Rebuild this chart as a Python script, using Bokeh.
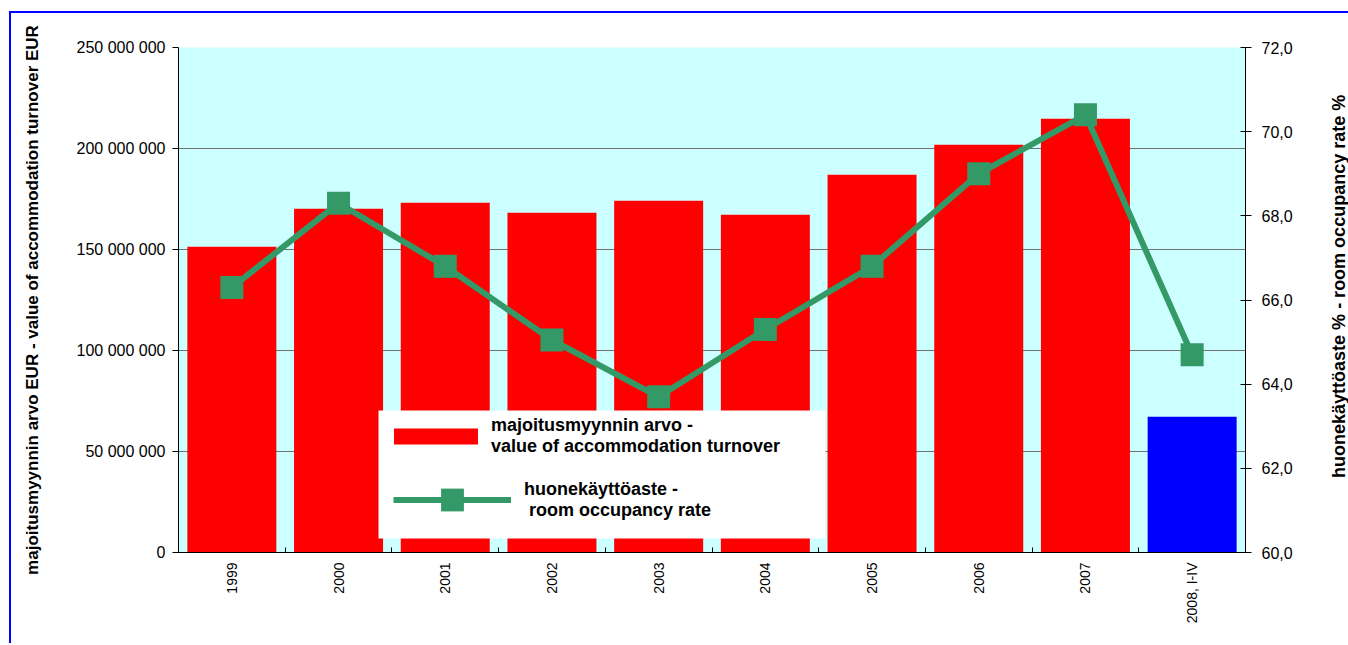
import math
from bokeh.plotting import figure
from bokeh.layouts import row
from bokeh.models import (Range1d, LinearAxis, FixedTicker, CustomJSTickFormatter,
                          Legend, LegendItem, ColumnDataSource, BoxAnnotation)
from bokeh.core.properties import value
from bokeh.embed import file_html
from bokeh.resources import INLINE

categories = ["1999", "2000", "2001", "2002", "2003", "2004", "2005", "2006", "2007", "2008, I-IV"]
turnover = [151.3e6, 170.2e6, 173.1e6, 168.2e6, 174.1e6, 167.2e6, 187.0e6, 201.8e6, 214.7e6, 67.2e6]
occupancy = [66.3, 68.3, 66.8, 65.05, 63.7, 65.3, 66.8, 69.0, 70.4, 64.7]
bar_colors = ["#FF0000"] * 9 + ["#0000FF"]
left_ticks = [0, 50e6, 100e6, 150e6, 200e6, 250e6]
right_ticks = [60, 62, 64, 66, 68, 70, 72]
left_title = "majoitusmyynnin arvo EUR - value of accommodation turnover EUR"
right_title = "huonekäyttöaste % - room occupancy rate %"
legend_bar = "majoitusmyynnin arvo -\nvalue of accommodation turnover"
legend_line = "huonekäyttöaste -\n room occupancy rate"

n = len(categories)
xc = [i + 0.5 for i in range(n)]
src = ColumnDataSource(dict(x=xc, turnover=turnover, occ=occupancy, color=bar_colors))

FONT = "Liberation Sans"
H = 630

p = figure(width=1317, height=H, output_backend="svg", toolbar_location=None,
           x_range=Range1d(0, n), y_range=Range1d(0, 250e6),
           min_border_left=167, min_border_right=83, min_border_top=34, min_border_bottom=91)
p.background_fill_color = "#CCFFFF"
p.border_fill_color = "white"
p.outline_line_color = None
p.extra_y_ranges = {"right": Range1d(60, 72)}

bars = p.vbar(x="x", top="turnover", width=0.834, fill_color="color", line_color=None, source=src)
line = p.line(x="x", y="occ", y_range_name="right", line_width=6, line_color="#339966", source=src)
marks = p.scatter(x="x", y="occ", y_range_name="right", marker="square", size=23,
                  fill_color="#339966", line_color=None, source=src)

# grid
p.xgrid.visible = False
p.ygrid.ticker = FixedTicker(ticks=left_ticks)
p.ygrid.grid_line_color = "#707070"
p.ygrid.grid_line_width = 1

# left axis
ya = p.yaxis[0]
ya.ticker = FixedTicker(ticks=left_ticks)
ya.formatter = CustomJSTickFormatter(code="""
return Math.round(tick).toString().replace(/\\B(?=(\\d{3})+(?!\\d))/g, " ");
""")
ya.axis_label = left_title
ya.axis_label_text_font = FONT
ya.axis_label_text_font_style = "bold"
ya.axis_label_text_font_size = "17px"
ya.axis_label_text_color = "black"
ya.axis_label_standoff = 32
ya.major_label_text_font = FONT
ya.major_label_text_font_size = "16px"
ya.major_label_text_color = "black"
ya.major_label_standoff = 7
ya.major_tick_out = 6
ya.major_tick_in = 0
ya.minor_tick_line_color = None
ya.axis_line_color = "black"
ya.major_tick_line_color = "black"

# right axis
ra = LinearAxis(y_range_name="right", ticker=FixedTicker(ticks=right_ticks))
ra.formatter = CustomJSTickFormatter(code="return tick.toFixed(1).replace('.', ',');")
ra.major_label_text_font = FONT
ra.major_label_text_font_size = "16px"
ra.major_label_text_color = "black"
ra.major_label_standoff = 10
ra.major_tick_out = 6
ra.major_tick_in = 5
ra.minor_tick_line_color = None
ra.axis_line_color = "black"
ra.major_tick_line_color = "black"
p.add_layout(ra, "right")

# bottom axis
xa = p.xaxis[0]
xa.ticker = FixedTicker(ticks=xc, minor_ticks=list(range(n + 1)))
xa.major_label_overrides = {x: c for x, c in zip(xc, categories)}
xa.major_label_orientation = math.pi / 2
xa.major_label_text_font = FONT
xa.major_label_text_font_size = "14px"
xa.major_label_text_color = "black"
xa.major_label_standoff = 10
xa.major_tick_in = 0
xa.major_tick_out = 0
xa.minor_tick_in = 5
xa.minor_tick_out = 0
xa.minor_tick_line_color = "black"
xa.axis_line_color = "black"

# legend background box
p.add_layout(BoxAnnotation(left=200, right=647, bottom=14, top=142,
                           left_units="screen", right_units="screen",
                           bottom_units="screen", top_units="screen",
                           fill_color="white", fill_alpha=1, line_color=None))

def style_legend(lg):
    lg.background_fill_alpha = 0
    lg.border_line_color = None
    lg.label_text_font = FONT
    lg.label_text_font_style = "bold"
    lg.label_text_font_size = "18px"
    lg.label_text_color = "black"
    lg.margin = 0
    lg.padding = 0

legend1 = Legend(items=[LegendItem(label=legend_bar, renderers=[bars])], location=(205, 95))
style_legend(legend1)
legend1.glyph_width = 105
legend1.glyph_height = 20
legend1.label_standoff = 3
p.add_layout(legend1, "center")

legend2 = Legend(items=[LegendItem(label=legend_line, renderers=[line, marks])], location=(215, 24))
style_legend(legend2)
legend2.glyph_width = 118
legend2.glyph_height = 57
legend2.label_standoff = 13
p.add_layout(legend2, "center")

# right-hand axis title (reads bottom to top) in a narrow strip
rs = figure(width=20, height=H, output_backend="svg", toolbar_location=None,
            x_range=Range1d(0, 1), y_range=Range1d(0, 1), min_border=0)
rs.axis.visible = False
rs.grid.visible = False
rs.outline_line_color = None
rs.background_fill_color = "white"
rs.border_fill_color = "white"
rs.text(x=[0.5], y=[0.527], text=[right_title], angle=math.pi / 2,
        text_align="center", text_baseline="middle",
        text_font=value(FONT), text_font_style="bold", text_font_size="18px",
        text_color="black")

layout = row(p, rs, spacing=0)
layout.styles = {"border-top": "2px solid #0000FF", "border-left": "2px solid #0000FF",
                 "margin-left": "9px", "margin-top": "11px"}

open("out.html", "w").write(file_html(layout, INLINE))
